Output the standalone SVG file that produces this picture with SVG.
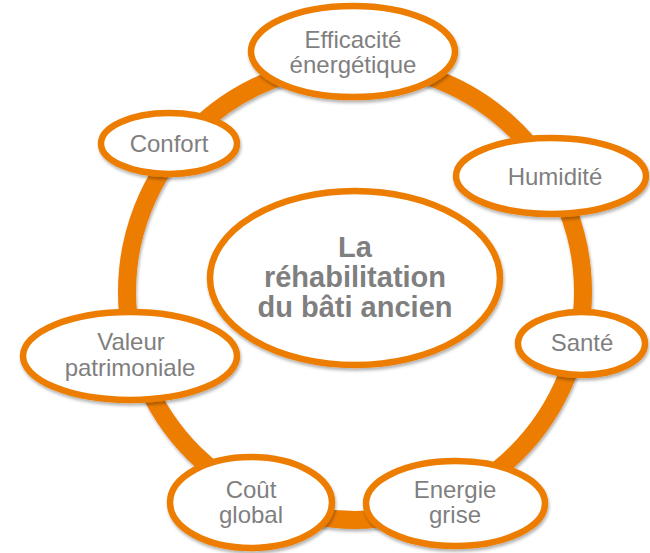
<svg xmlns="http://www.w3.org/2000/svg" width="650" height="553" viewBox="0 0 650 553">
  <defs>
    <filter id="sh" x="-10%" y="-10%" width="125%" height="130%">
      <feDropShadow dx="1" dy="2.5" stdDeviation="1.6" flood-color="#000" flood-opacity="0.3"/>
    </filter>
    <style>
      .node { fill: #ffffff; stroke: #ED7D00; stroke-width: 6.5; filter: url(#sh); }
      .ring { fill: none; stroke: #ED7D00; stroke-width: 18; filter: url(#sh); }
      .lbl { font-family: "Liberation Sans", Arial, sans-serif; font-size: 24px; fill: #7F7F7F; text-anchor: middle; }
      .title { font-family: "Liberation Sans", Arial, sans-serif; font-size: 29px; font-weight: bold; fill: #7F7F7F; text-anchor: middle; }
    </style>
  </defs>
  <rect width="650" height="553" fill="#ffffff"/>
  <g id="connectors">
    <circle class="ring" cx="355" cy="292" r="228"/>
  </g>
  <g id="center">
    <ellipse class="node" cx="355" cy="278" rx="145" ry="87"/>
    <text class="title" x="355" y="257">La</text>
    <text class="title" x="355" y="287">réhabilitation</text>
    <text class="title" x="355" y="317">du bâti ancien</text>
  </g>
  <g id="efficacite">
    <ellipse class="node" cx="353" cy="51.5" rx="102" ry="45.5"/>
    <text class="lbl" x="353" y="48">Efficacité</text>
    <text class="lbl" x="353" y="73">énergétique</text>
  </g>
  <g id="confort">
    <ellipse class="node" cx="169" cy="143.5" rx="68" ry="30.5"/>
    <text class="lbl" x="169" y="152">Confort</text>
  </g>
  <g id="humidite">
    <ellipse class="node" cx="551" cy="176" rx="95" ry="38"/>
    <text class="lbl" x="555" y="185">Humidité</text>
  </g>
  <g id="sante">
    <ellipse class="node" cx="581.5" cy="343.5" rx="63.5" ry="31.5"/>
    <text class="lbl" x="582" y="351">Santé</text>
  </g>
  <g id="energie-grise">
    <ellipse class="node" cx="455.5" cy="503.5" rx="89.5" ry="42.5"/>
    <text class="lbl" x="455" y="498">Energie</text>
    <text class="lbl" x="455" y="523">grise</text>
  </g>
  <g id="cout-global">
    <ellipse class="node" cx="251" cy="502.5" rx="81" ry="45.5"/>
    <text class="lbl" x="251" y="498">Coût</text>
    <text class="lbl" x="251" y="523">global</text>
  </g>
  <g id="valeur-patrimoniale">
    <ellipse class="node" cx="130" cy="356" rx="107" ry="44"/>
    <text class="lbl" x="131" y="350">Valeur</text>
    <text class="lbl" x="130" y="376">patrimoniale</text>
  </g>
</svg>
